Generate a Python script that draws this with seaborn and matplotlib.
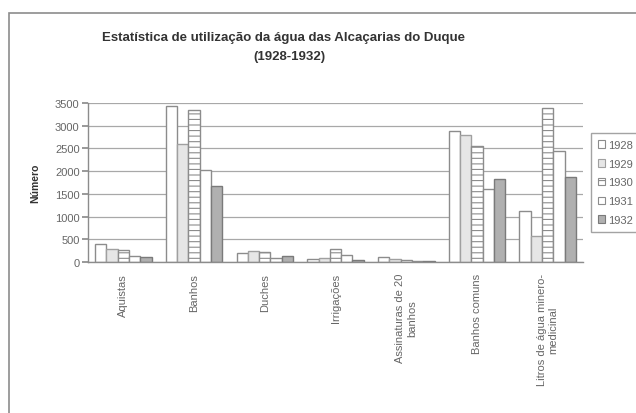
import matplotlib
matplotlib.use("Agg")
import matplotlib.pyplot as plt
from matplotlib.patches import Rectangle, Patch
import seaborn as sns
import pandas as pd

categories = ["Aquistas", "Banhos", "Duches", "Irrigações",
              "Assinaturas de 20\nbanhos", "Banhos comuns",
              "Litros de água minero-\nmedicinal"]
years = ["1928", "1929", "1930", "1931", "1932"]
v1928 = [405, 3436, 192, 70, 120, 2876, 1125]
v1929 = [290, 2595, 236, 90, 70, 2790, 575]
v1930 = [265, 3347, 214, 290, 50, 2545, 3380]
v1931 = [140, 2020, 95, 155, 25, 1615, 2450]
v1932 = [117, 1666, 140, 50, 20, 1836, 1870]

rows = []
for y, vals in zip(years, [v1928, v1929, v1930, v1931, v1932]):
    for c, v in zip(categories, vals):
        rows.append({"cat": c, "year": y, "val": v})
df = pd.DataFrame(rows)

sns.set_theme(style="white")
plt.rcParams['font.family'] = ['Liberation Sans', 'DejaVu Sans']
plt.rcParams['hatch.color'] = '#8a8a8a'
plt.rcParams['hatch.linewidth'] = 0.8

fig = plt.figure(figsize=(6.36, 4.14), dpi=100)
ax = fig.add_axes([88/636, 1-263/414, (583-88)/636, (263-104)/414])

face = {"1928": "#ffffff", "1929": "#e6e6e6", "1930": "#ffffff",
        "1931": "#ffffff", "1932": "#b0b0b0"}
edge = {"1928": "#8c8c8c", "1929": "#a0a0a0", "1930": "#8c8c8c",
        "1931": "#8c8c8c", "1932": "#7a7a7a"}
hatch = {"1928": None, "1929": None, "1930": "---", "1931": None, "1932": None}

sns.barplot(data=df, x="cat", y="val", hue="year", hue_order=years,
            order=categories, palette=face, width=0.8, ax=ax,
            edgecolor="#8c8c8c", linewidth=1.0, legend=False)

for cont, y in zip(ax.containers, years):
    for b in cont:
        b.set_edgecolor(edge[y])
        if hatch[y]:
            b.set_hatch(hatch[y])

ax.set_ylim(0, 3500)
ax.set_xlim(-0.5, 6.5)
ax.set_yticks(range(0, 3501, 500))
ax.yaxis.grid(True, color="#a8a8a8", linewidth=0.9)
ax.set_axisbelow(True)
for s in ["top", "right"]:
    ax.spines[s].set_visible(False)
for s in ["left", "bottom"]:
    ax.spines[s].set_color("#8c8c8c")
    ax.spines[s].set_linewidth(1.0)

ax.set_xticks(range(len(categories)))
ax.set_xticklabels(categories, rotation=90, fontsize=8, color="#666666",
                   va="top", ha="center", multialignment="center")
ax.tick_params(axis="x", which="major", length=0, pad=8)
ax.set_xticks([i - 0.5 for i in range(len(categories) + 1)], minor=True)
ax.tick_params(axis="x", which="minor", length=4, color="#8c8c8c", direction="out")
ax.tick_params(axis="y", length=4, color="#8c8c8c", direction="out",
               labelsize=8, labelcolor="#666666", left=True, pad=2)
ax.set_xlabel("")
ax.set_ylabel("Número", fontsize=7.5, fontweight="bold", color="#333333", labelpad=11)

fig.text(284/636, 1-38/414, "Estatística de utilização da água das Alcaçarias do Duque",
         ha="center", va="center", fontsize=9.5, fontweight="bold", color="#333333")
fig.text(289/636, 1-57/414, "(1928-1932)",
         ha="center", va="center", fontsize=9.5, fontweight="bold", color="#333333")

# outer frame
fig.patches.append(Rectangle((9/636, -0.05), 1.2, 1 - 14/414 + 0.05,
                             transform=fig.transFigure, fill=False,
                             edgecolor="#8c8c8c", linewidth=1.2))

handles = [Patch(facecolor=face[y], edgecolor=edge[y], hatch=hatch[y], linewidth=0.8)
           for y in years]
leg = fig.legend(handles, years, loc="upper left",
                 bbox_to_anchor=(591/636, 1-134/414), bbox_transform=fig.transFigure,
                 fontsize=8, frameon=True, fancybox=False, handlelength=0.7,
                 handleheight=0.7, handletextpad=0.2, labelspacing=0.8,
                 borderpad=0.6, borderaxespad=0)
leg.get_frame().set_edgecolor("#8c8c8c")
leg.get_frame().set_linewidth(1.0)
for t in leg.get_texts():
    t.set_color("#666666")

fig.savefig("out.png", dpi=100)
